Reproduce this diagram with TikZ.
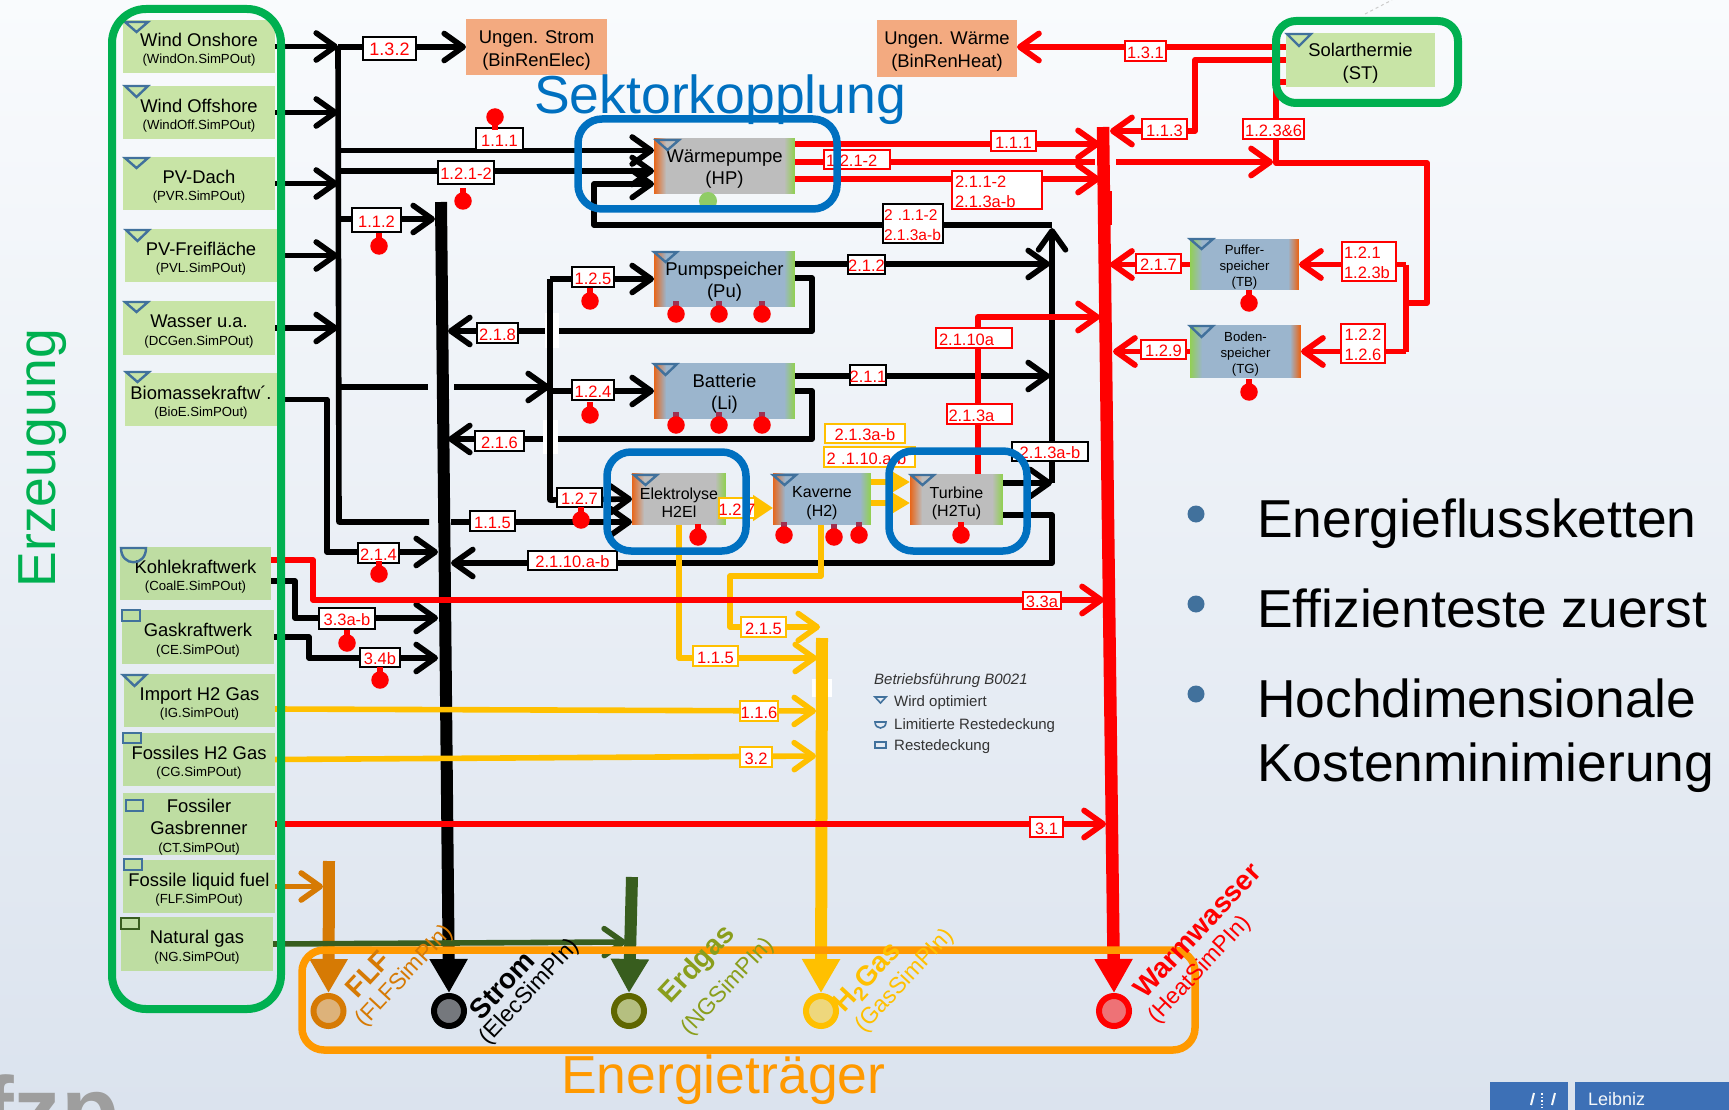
\documentclass[tikz,border=0pt]{standalone}
\usepackage{fontspec}
\setmainfont{Liberation Sans}
\usetikzlibrary{arrows.meta,shapes.geometric}
\pgfdeclarelayer{bg}\pgfdeclarelayer{lines}\pgfdeclarelayer{frames}\pgfdeclarelayer{top}
\pgfsetlayers{bg,lines,main,frames,top}
\definecolor{cSrcA}{HTML}{C8E4A6}
\definecolor{cSrcB}{HTML}{BEDDA2}
\definecolor{cSalm}{HTML}{F3AA80}
\definecolor{cGrey}{HTML}{BDBDBD}
\definecolor{cBlue}{HTML}{9BB5CD}
\definecolor{cO}{HTML}{E8661A}
\definecolor{cG}{HTML}{92CF55}
\definecolor{cIcon}{HTML}{41719C}
\definecolor{cY}{HTML}{FFC000}
\definecolor{cFLF}{HTML}{D67A04}
\definecolor{cNG}{HTML}{385D1E}
\definecolor{cOl}{HTML}{5F6600}
\definecolor{cEr}{HTML}{8A9E1C}
\definecolor{cOr}{HTML}{FF9900}
\definecolor{cFrB}{HTML}{0070C0}
\definecolor{cFrG}{HTML}{00B050}
\definecolor{cStem}{HTML}{A03050}
\definecolor{cLz}{HTML}{3D70B6}
\newcommand\bxpre{}
\newcommand\bx[7]{\node[inner sep=0pt,outer sep=0pt,align=center,minimum width={(#4-#2)*1pt},minimum height={(#5-#3)*1pt},#6] (#1) at ({(#2+#4)/2},{(#3+#5)/2}) {\bxpre #7};}
\newcommand\srcbox[8]{\bx{#1}{#2}{#3}{#4}{#5}{fill=#6,dn=20pt,font=\fontsize{18.4}{17.5}\selectfont}{#7\\{\fontsize{13.2}{16}\selectfont #8}}}
\newcommand\tri[4]{\draw[icon] (#1,#2) -- (#3,#2) -- ({(#1+#3)/2},#4) -- cycle;}
\newcommand\rct[4]{\draw[icon] (#1,#2) rectangle (#3,#4);}
\newcommand\rtop[4]{\fill[#4] ({#2-3},{#3-13}) rectangle ({#2+3},{#3-4}); \node[rdot] (#1) at (#2,#3) {};}
\newcommand\rbot[3]{\fill[red] ({#2-3},{#3+4}) rectangle ({#2+3},{#3+13}); \node[rdot] (#1) at (#2,#3) {};}
\newcommand\gradL[2]{\foreach \i in {0,...,12}{\pgfmathsetmacro\pp{100*(1-\i/12)}\fill[#1!\pp!#2] ([xshift={\i*1pt}]path picture bounding box.south west) rectangle ([xshift={(\i+1.4)*1pt}]path picture bounding box.north west);}}
\newcommand\gradR[2]{\foreach \i in {0,...,10}{\pgfmathsetmacro\pp{100*(1-\i/10)}\fill[#1!\pp!#2] ([xshift={-\i*1pt}]path picture bounding box.south east) rectangle ([xshift={-(\i+1.4)*1pt}]path picture bounding box.north east);}}
\tikzset{
 x=1pt,y=-1pt,
 dn/.code={\def\bxpre{\rule{0pt}{#1}}},
 icon/.style={draw=cIcon,line width=2.4pt,line join=miter},
 rdot/.style={circle,fill=red,inner sep=0pt,minimum size=17.5pt},
 bk/.style={draw=black,line width=5.6pt,line join=round},
 rd/.style={draw=red,line width=5.8pt,line join=round},
 yl/.style={draw=cY,line width=5.6pt,line join=round},
 dg/.style={draw=cNG,line width=5.6pt,line join=round},
 fl/.style={draw=cFLF,line width=5.6pt,line join=round},
 arr/.style={-{Straight Barb[length=19pt,width=27pt,round]}},
 tipT/.style={-{Triangle[length=34pt,width=36pt]}},
 lbB/.style={draw=black,line width=1.8pt,fill=white,text=red,dn=14.5pt,font=\fontsize{16.5}{20}\selectfont},
 lbR/.style={draw=red,line width=1.8pt,fill=white,text=red,dn=14.5pt,font=\fontsize{16.5}{20}\selectfont},
 lbY/.style={draw=cY,line width=1.8pt,fill=white,text=red,dn=14.5pt,font=\fontsize{16.5}{20}\selectfont},
 lft/.style={text width=#1,align=left},
 pr/.style={fill=#1,path picture={\gradL{cO}{#1}\gradR{cG}{#1}}},
 prR/.style={fill=#1,path picture={\gradL{cG}{#1}\gradR{cO}{#1}}},
 prT/.style={dn=19pt,font=\fontsize{18.5}{22}\selectfont},
 prM/.style={dn=19pt,font=\fontsize{16}{18.5}\selectfont},
 prS/.style={dn=15pt,font=\fontsize{13.2}{16}\selectfont},
 frB/.style={draw=cFrB,line width=7.5pt,rounded corners=24pt},
 car/.style={circle,line width=6pt,inner sep=0pt,minimum size=30pt},
 big/.style={font=\fontsize{53.5}{60}\selectfont},
 rightT/.style={anchor=base west,font=\fontsize{53.4}{60}\selectfont,text=black},
 legT/.style={anchor=west,inner sep=0pt,text=black!80,font=\fontsize{15}{17}\selectfont},
 eb/.style={rotate=47,font=\fontsize{28}{32}\bfseries\selectfont},
 es/.style={rotate=47,font=\fontsize{23}{26}\selectfont},
}
\begin{document}
\begin{tikzpicture}
\useasboundingbox (0,0) rectangle (1729,1110);
\begin{pgfonlayer}{bg}
\definecolor{bgT}{HTML}{F9FBFD}\definecolor{bgM}{HTML}{F0F3F8}\definecolor{bgB}{HTML}{DBE3EE}
\shade[top color=bgT,middle color=bgM,bottom color=bgB] (0,0) rectangle (1729,1110);
\end{pgfonlayer}

% ===== energy sources =====
\srcbox{wo}{123}{20}{275}{73}{cSrcA}{Wind Onshore}{(WindOn.SimPOut)}
\srcbox{wf}{123}{86}{275}{139}{cSrcA}{Wind Offshore}{(WindOff.SimPOut)}
\srcbox{pd}{123}{157}{275}{210}{cSrcA}{PV-Dach}{(PVR.SimPOut)}
\srcbox{pf}{125}{229}{277}{282}{cSrcA}{PV-Freifläche}{(PVL.SimPOut)}
\srcbox{wa}{123}{301}{275}{355}{cSrcA}{Wasser u.a.}{(DCGen.SimPOut)}
\srcbox{bi}{125}{373}{277}{426}{cSrcA}{Biomassekraftw´.}{(BioE.SimPOut)}
\srcbox{ko}{120}{547}{271}{600}{cSrcB}{Kohlekraftwerk}{(CoalE.SimPOut)}
\srcbox{ga}{122}{610}{274}{664}{cSrcB}{Gaskraftwerk}{(CE.SimPOut)}
\srcbox{im}{124}{674}{275}{727}{cSrcB}{Import H2 Gas}{(IG.SimPOut)}
\srcbox{fo}{123}{733}{275}{786}{cSrcB}{Fossiles H2 Gas}{(CG.SimPOut)}
\bx{fb}{123}{797}{275}{851}{fill=cSrcB,dn=20pt,font=\fontsize{18.4}{21.5}\selectfont}{Fossiler\\Gasbrenner\\[-3pt]{\fontsize{13.2}{16}\selectfont (CT.SimPOut)}}
\srcbox{ff}{123}{860}{275}{913}{cSrcB}{Fossile liquid fuel}{(FLF.SimPOut)}
\srcbox{ng}{121}{917}{273}{971}{cSrcB}{Natural gas}{(NG.SimPOut)}
\bx{st}{1286}{33}{1435}{87}{fill=cSrcA,prT,font=\fontsize{18.4}{23}\selectfont}{Solarthermie\\(ST)}
\bx{us}{466}{19}{607}{75}{fill=cSalm,prT,font=\fontsize{18.4}{23}\selectfont}{Ungen. Strom\\(BinRenElec)}
\bx{uw}{877}{20}{1017}{77}{fill=cSalm,prT,font=\fontsize{18.4}{23}\selectfont}{Ungen. Wärme\\(BinRenHeat)}

% ===== processes =====
\bx{wp}{654}{138}{795}{194}{pr=cGrey,prT}{Wärmepumpe\\(HP)}
\bx{pu}{654}{251}{795}{307}{pr=cBlue,prT}{Pumpspeicher\\(Pu)}
\bx{li}{654}{363}{795}{419}{pr=cBlue,prT}{Batterie\\(Li)}
\bx{el}{632}{473}{726}{525}{pr=cGrey,prM}{Elektrolyse\\H2El}
\bx{ka}{773}{473}{871}{525}{pr=cBlue,prM}{Kaverne\\(H2)}
\bx{tu}{910}{474}{1003}{525}{pr=cGrey,prM}{Turbine\\(H2Tu)}
\bx{tb}{1190}{239}{1299}{290}{prR=cBlue,prS}{Puffer-\\speicher\\(TB)}
\bx{tg}{1190}{325}{1301}{378}{prR=cBlue,prS}{Boden-\\speicher\\(TG)}

% ===== carriers =====
\definecolor{fF}{HTML}{DDB27A}\definecolor{fS}{HTML}{75787D}\definecolor{fN}{HTML}{B5BF80}\definecolor{fH}{HTML}{EED77C}\definecolor{fR}{HTML}{EE7276}
\node[car,draw=cFLF,fill=fF] (cF) at (328.5,1011) {};
\node[car,draw=black,fill=fS] (cS) at (449,1011) {};
\node[car,draw=cOl,fill=fN] (cN) at (629,1011) {};
\node[car,draw=cY,fill=fH] (cH) at (821,1011) {};
\node[car,draw=red,fill=fR] (cR) at (1114,1011) {};

% ===== junction points =====
\coordinate (busA) at (338,47);
\coordinate (busAb) at (339,522);
\coordinate (gapAl) at (429,522);
\coordinate (gapAr) at (451,522);
\coordinate (elIn2) at (632,522);
\coordinate (busS) at (441,202);
\coordinate (bus2) at (1052,483);
\coordinate (bus2t) at (1052,228);
\coordinate (wpIn1) at (654,150.5);
\coordinate (wpIn2) at (654,171);
\coordinate (wpIn3) at (654,184);
\coordinate (wpRet1) at (1052,225);
\coordinate (wpRet2) at (594,225);
\coordinate (wpRet3) at (594,184);
\coordinate (sA) at (435,219);
\coordinate (sAl) at (338,219);
\coordinate (hopL) at (338,387);
\coordinate (hopM) at (428,387);
\coordinate (hopN) at (454,387);
\coordinate (b2j) at (550,387);
\coordinate (b2l) at (550,391);
\coordinate (b2t) at (550,279);
\coordinate (b2b) at (550,500);
\coordinate (elIn1) at (632,499);
\coordinate (puR) at (795,278);
\coordinate (puC) at (812,278);
\coordinate (puD) at (812,331);
\coordinate (puE) at (448,331);
\coordinate (liR) at (795,391);
\coordinate (liC) at (812,391);
\coordinate (liD) at (812,439);
\coordinate (liE) at (448,439);
\coordinate (puO) at (795,264);
\coordinate (puB) at (1050,264);
\coordinate (liO) at (795,376);
\coordinate (liB) at (1050,376);
\coordinate (tuO1) at (1003,483);
\coordinate (tuO2) at (1003,515);
\coordinate (tuC) at (1052,515);
\coordinate (tuD) at (1052,563);
\coordinate (tuE) at (451,563);
\coordinate (biC) at (327,399.5);
\coordinate (biD) at (327,552);
\coordinate (biE) at (438,552);
\coordinate (koK) at (271,581);
\coordinate (koC) at (295,581);
\coordinate (koD) at (295,618);
\coordinate (koE) at (438,618);
\coordinate (gaK) at (274,637);
\coordinate (gaC) at (309,637);
\coordinate (gaD) at (309,658);
\coordinate (gaE) at (438,658);
\coordinate (koR) at (271,560);
\coordinate (koRc) at (313,560);
\coordinate (koRd) at (313,600);
\coordinate (koRe) at (1104,600);
\coordinate (fbE) at (1106,824);
\coordinate (imK) at (275,709);
\coordinate (imE) at (816,711);
\coordinate (foE) at (816,756);
\coordinate (elD) at (679,525);
\coordinate (elC) at (679,658);
\coordinate (elE) at (817,658);
\coordinate (kaD) at (821,525);
\coordinate (kaC) at (821,576);
\coordinate (kaB) at (730,576);
\coordinate (kaA) at (730,627);
\coordinate (kaE) at (820,627);
\coordinate (eka1) at (726,508);
\coordinate (eka2) at (773,508);
\coordinate (ktu1a) at (871,482);
\coordinate (ktu1b) at (910,482);
\coordinate (ktu2a) at (871,503);
\coordinate (ktu2b) at (910,503);
\coordinate (yBus) at (822,638);
\coordinate (rBus) at (1103,127);
\coordinate (flBus) at (329,861);
\coordinate (ffE) at (323,886.5);
\coordinate (ngBus) at (632,877);
\coordinate (ngE) at (626,942);
\coordinate (wr1a) at (795,144);
\coordinate (wr1b) at (1100,144);
\coordinate (wr2a) at (795,162);
\coordinate (wr2b) at (1095,162);
\coordinate (wr2c) at (1116,162);
\coordinate (wr2d) at (1273,162);
\coordinate (wr3a) at (795,179);
\coordinate (wr3b) at (1100,179);
\coordinate (tuR) at (978,474);
\coordinate (tuRc) at (978,317);
\coordinate (tuRe) at (1100,317);
\coordinate (st1) at (1286,47);
\coordinate (st2) at (1286,60);
\coordinate (st2c) at (1195,60);
\coordinate (st2d) at (1195,131);
\coordinate (st2e) at (1110,131);
\coordinate (st3) at (1286,82);
\coordinate (st3a) at (1276,82);
\coordinate (st3b) at (1276,163);
\coordinate (st3c) at (1427,163);
\coordinate (st3d) at (1427,303);
\coordinate (st3e) at (1406,303);
\coordinate (sp1) at (1406,264.5);
\coordinate (sp2) at (1406,351.5);
\coordinate (tbE) at (1110,264.5);
\coordinate (tgE) at (1113,351.5);

\begin{pgfonlayer}{lines}
% black
\draw[bk,arr] (wo.east) -- (wo.east -| busA);
\draw[bk,arr] (wf.east) -- (wf.east -| busA);
\draw[bk,arr] (pd.east) -- (pd.east -| busA);
\draw[bk,arr] (pf.east) -- (pf.east -| busA);
\draw[bk,arr] (wa.east) -- (wa.east -| busA);
\draw[bk,arr] (busA) -- (us.west |- busA);
\draw[bk] (busA) -- (busAb) -- (gapAl);
\draw[bk,arr] (gapAr) -- (elIn2);
\draw[bk,arr] (wpIn1 -| busA) -- (wpIn1);
\draw[bk,arr] (wpIn2 -| busA) -- (wpIn2);
\draw[bk,arr] (wpRet1) -- (wpRet2) -- (wpRet3) -- (wpIn3);
\draw[bk,arr] (sAl) -- (sA);
\draw[bk] (hopL) -- (hopM);
\draw[bk,arr] (hopN) -- (b2j);
\draw[bk,arr] (b2l) -- (li.west);
\draw[bk,arr] (puR) -- (puC) -- (puD) -- (puE);
\draw[bk,arr] (liR) -- (liC) -- (liD) -- (liE);
\fill[white] (545,313) rectangle (559,348);
\fill[white] (543,420) rectangle (558,454);
\draw[bk,arr] (b2t) -- (pu.west);
\draw[bk,arr] (b2t) -- (b2b) -- (elIn1);
\draw[bk,arr] (puO) -- (puB);
\draw[bk,arr] (liO) -- (liB);
\draw[bk,arr] (tuO1) -- (bus2);
\draw[bk,arr] (bus2) -- (bus2t);
\draw[bk,arr] (tuO2) -- (tuC) -- (tuD) -- (tuE);
\draw[bk,arr] (bi.east) -- (biC) -- (biD) -- (biE);
\draw[bk,arr] (koK) -- (koC) -- (koD) -- (koE);
\draw[bk,arr] (gaK) -- (gaC) -- (gaD) -- (gaE);
\draw[draw=black,line width=12pt,tipT] (busS) -- (cS.north);
% yellow
\fill[white] (812,679) rectangle (832,697);
\draw[yl,arr] (imK) -- (imE);
\draw[yl,arr] (fo.east) -- (foE);
\draw[yl,arr] (elD) -- (elC) -- (elE);
\draw[yl,arr] (kaD) -- (kaC) -- (kaB) -- (kaA) -- (kaE);
\draw[yl,-{Triangle[length=20pt,width=25pt]}] (eka1) -- (eka2);
\draw[yl,-{Triangle[length=18pt,width=20pt]}] (ktu1a) -- (ktu1b);
\draw[yl,-{Triangle[length=18pt,width=20pt]}] (ktu2a) -- (ktu2b);
\draw[draw=cY,line width=12pt,tipT] (yBus) -- (cH.north);
% red
\draw[rd,arr] (koR) -- (koRc) -- (koRd) -- (koRe);
\draw[rd,arr] (fb.east) -- (fbE);
\draw[rd,arr] (wr1a) -- (wr1b);
\draw[rd] (wr2a) -- (wr2b);
\draw[rd,arr] (wr2c) -- (wr2d);
\draw[rd,arr] (wr3a) -- (wr3b);
\draw[rd,arr] (tuR) -- (tuRc) -- (tuRe);
\draw[rd,arr] (st1) -- (uw.east |- st1);
\draw[rd,arr] (st2) -- (st2c) -- (st2d) -- (st2e);
\draw[rd] (st3) -- (st3a) -- (st3b) -- (st3c) -- (st3d) -- (st3e);
\draw[rd] (sp1) -- (sp2);
\draw[rd,arr] (sp1) -- (tb.east);
\draw[rd,arr] (sp2) -- (tg.east);
\draw[rd,arr] (tb.west) -- (tbE);
\draw[rd,arr] (tg.west) -- (tgE);
\fill[red] (1098,191) rectangle (1112,225);
\draw[draw=red,line width=12.5pt,tipT] (rBus) -- (cR.north);
% fossil liquid fuel and natural gas
\draw[fl,arr] (ff.east) -- (ffE);
\draw[draw=cFLF,line width=12pt,tipT] (flBus) -- (cF.north);
\draw[dg,arr] (ng.east) -- (ngE);
\draw[draw=cNG,line width=12pt,tipT] (ngBus) -- (cN.north);
\end{pgfonlayer}

% ===== flow labels =====
\bx{a1}{363}{37}{416}{60}{lbB,font=\fontsize{18}{20}\selectfont}{1.3.2}
\bx{a2}{476}{128}{523}{150}{lbB}{1.1.1}
\bx{a3}{438}{161}{494}{184}{lbB}{1.2.1-2}
\bx{a4}{352}{208}{401}{232}{lbB}{1.1.2}
\bx{a5}{572}{267}{614}{287}{lbB}{1.2.5}
\bx{a6}{477}{323}{518}{343}{lbB}{2.1.8}
\bx{a7}{572}{380}{614}{400}{lbB}{1.2.4}
\bx{a8}{475}{431}{524}{451}{lbB}{2.1.6}
\bx{a9}{557}{488}{602}{507}{lbB}{1.2.7}
\bx{a10}{470}{511}{515}{531}{lbB}{1.1.5}
\bx{a11}{528}{551}{617}{570}{lbB}{2.1.10.a-b}
\bx{a12}{358}{543}{399}{563}{lbB}{2.1.4}
\bx{a13}{319}{608}{375}{629}{lbB}{3.3a-b}
\bx{a14}{360}{648}{400}{667}{lbB}{3.4b}
\bx{a15}{849}{255}{884}{274}{lbB}{2.1.2}
\bx{a16}{850}{365}{886}{385}{lbB}{2.1.1}
\bx{a17}{1012}{442}{1088}{461}{lbB}{2.1.3a-b}
\bx{a18}{883}{204}{943}{243}{lbB,font=\fontsize{15.5}{20}\selectfont,lft=58pt}{2 .1.1-2\\2.1.3a-b}
\bx{b1}{991}{131}{1036}{151}{lbR}{1.1.1}
\bx{b2}{824}{150}{890}{169}{lbR,lft=62pt}{1.2.1-2}
\bx{b3}{952}{171}{1042}{209}{lbR,lft=84pt}{2.1.1-2\\2.1.3a-b}
\bx{b4}{1142}{119}{1187}{139}{lbR}{1.1.3}
\bx{b5}{1125}{41}{1166}{61}{lbR}{1.3.1}
\bx{b6}{1243}{119}{1304}{139}{lbR}{1.2.3\&6}
\bx{b7}{1136}{254}{1181}{273}{lbR}{2.1.7}
\bx{b8}{1141}{340}{1186}{359}{lbR}{1.2.9}
\bx{b9}{1342}{242}{1396}{281}{lbR,lft=50pt}{1.2.1\\1.2.3b}
\bx{b10}{1341}{324}{1385}{363}{lbR}{1.2.2\\1.2.6}
\bx{b11}{936}{328}{1012}{348}{lbR,lft=70pt}{2.1.10a}
\bx{b12}{947}{404}{1012}{424}{lbR,lft=62pt}{2.1.3a}
\bx{b13}{1023}{592}{1061}{609}{lbR}{3.3a}
\bx{b14}{1030}{817}{1063}{837}{lbR}{3.1}
\bx{c1}{722}{498}{752}{518}{lbY}{1.2.7}
\bx{c2}{825}{424}{905}{443}{lbY}{2.1.3a-b}
\bx{c3}{824}{447}{915}{467}{lbY,lft=86pt}{2 .1.10.a-b}
\bx{c4}{741}{617}{786}{637}{lbY}{2.1.5}
\bx{c5}{693}{646}{738}{666}{lbY}{1.1.5}
\bx{c6}{740}{701}{778}{721}{lbY}{1.1.6}
\bx{c7}{740}{747}{772}{767}{lbY}{3.2}

% ===== red markers =====
\rbot{d1}{495}{117}
\rtop{d2}{463}{201}{red}
\rtop{d3}{379}{246}{red}
\rtop{d4}{590}{301}{red}
\rtop{d5}{590}{415}{red}
\rtop{d6}{581}{520}{red}
\rtop{d7}{379}{574}{red}
\rtop{d8}{347}{643}{red}
\rtop{d9}{380}{680}{red}
\rtop{d10}{676}{314}{cStem}
\rtop{d11}{719}{314}{cStem}
\rtop{d12}{762}{314}{cStem}
\rtop{d13}{676}{425}{cStem}
\rtop{d14}{719}{425}{cStem}
\rtop{d15}{762}{425}{cStem}
\rtop{d16}{698}{537}{red}
\rtop{d17}{784}{535}{cStem}
\rtop{d18}{834}{537}{cStem}
\rtop{d19}{859}{535}{cStem}
\rtop{d20}{961}{535}{red}
\rtop{d21}{1249}{303}{red}
\rtop{d22}{1249}{392}{red}
\definecolor{cDot}{HTML}{90CC66}
\node[circle,fill=cDot,inner sep=0pt,minimum size=18pt] (d0) at (708,201) {};

% ===== operating-mode icons =====
\tri{125}{22}{148}{32}
\tri{125}{86}{148}{97}
\tri{125}{158}{148}{168}
\tri{126}{230}{149}{241}
\tri{125}{302}{148}{312}
\tri{126}{372}{149}{382}
\tri{123}{675}{146}{686}
\tri{656}{140}{679}{150}
\tri{654}{252}{677}{262}
\tri{654}{364}{677}{375}
\tri{634}{475}{657}{485}
\tri{773}{475}{796}{485}
\tri{911}{475}{934}{485}
\tri{1190}{239}{1213}{249}
\tri{1190}{326}{1213}{337}
\tri{1287}{34}{1311}{46}
\draw[icon] (121,548) -- (146,548) .. controls (146,567) and (121,567) .. (121,548) -- cycle;
\rct{122}{610}{140}{621}
\rct{123}{733}{141}{743}
\rct{126}{800}{143}{811}
\rct{124}{859}{142}{870}
\draw[draw=cNG,line width=2.4pt] (121,918) rectangle (139,929);

% ===== legend =====
\node[legT,font=\fontsize{15}{17}\itshape\selectfont] (lg0) at (874,681) {Betriebsführung B0021};
\draw[draw=cIcon,line width=1.6pt] (875,697) -- (886,697) -- (880.5,703) -- cycle;
\node[legT] (lg1) at (894,703) {Wird optimiert};
\draw[draw=cIcon,line width=1.6pt] (875,722) -- (886,722) .. controls (886,730) and (875,730) .. (875,722) -- cycle;
\node[legT] (lg2) at (894,725.5) {Limitierte Restedeckung};
\draw[draw=cIcon,line width=1.6pt] (875,742) rectangle (886,748);
\node[legT] (lg3) at (894,747) {Restedeckung};

% ===== big captions and bullets =====
\node[big,anchor=base west,text=cFrB,inner sep=0pt] (t1) at (534,114) {Sektorkopplung};
\node[big,anchor=base west,text=cOr,inner sep=0pt] (t2) at (561,1093) {Energieträger};
\node[big,anchor=base,rotate=90,text=cFrG,inner sep=0pt] (t3) at (55,458) {Erzeugung};
\node[rightT,inner sep=0pt] (r1) at (1257,537.5) {Energieflussketten};
\node[rightT,inner sep=0pt] (r2) at (1257,627.5) {Effizienteste zuerst};
\node[rightT,inner sep=0pt] (r3) at (1257,717.5) {Hochdimensionale};
\node[rightT,inner sep=0pt] (r4) at (1257,781.5) {Kostenminimierung};
\node[circle,fill=cIcon,inner sep=0pt,minimum size=17pt] (p1) at (1196,514) {};
\node[circle,fill=cIcon,inner sep=0pt,minimum size=17pt] (p2) at (1196,604) {};
\node[circle,fill=cIcon,inner sep=0pt,minimum size=17pt] (p3) at (1196,694) {};

% ===== corner marks =====
\node[anchor=base west,inner sep=0pt,text=black!38,font=\fontsize{95}{100}\bfseries\selectfont] (logo) at (-18,1143) {fzp};
\bx{lz1}{1490}{1082}{1568}{1115}{fill=cLz}{}
\bx{lz2}{1575}{1082}{1735}{1115}{fill=cLz}{}
\node[anchor=west,inner sep=0pt,text=white!90!cBlue,font=\fontsize{18}{20}\selectfont] (lz3) at (1588,1099) {Leibniz};
\draw[white!90!cBlue,line width=2pt] (1531,1105) -- (1534,1093) (1552,1105) -- (1555,1093);
\draw[white!90!cBlue,line width=1.5pt,dotted] (1542,1093) -- (1542,1108);
\draw[black!20,line width=1pt,dashed] (1365,14) -- (1392,0);

% ===== frames =====
\begin{pgfonlayer}{frames}
\bx{fG}{112}{9}{281}{1009}{draw=cFrG,line width=8pt,rounded corners=34pt}{}
\bx{fS}{1276}{21}{1458}{103}{draw=cFrG,line width=8pt,rounded corners=20pt}{}
\bx{fW}{578}{119}{837}{209}{frB}{}
\bx{fE}{607}{452}{746}{551}{frB}{}
\bx{fT}{889}{451}{1027}{551}{frB}{}
\bx{fO}{302}{950}{1195}{1050}{draw=cOr,line width=7.5pt,rounded corners=22pt}{}
\end{pgfonlayer}

% ===== carrier captions =====
\begin{pgfonlayer}{top}
\node[eb,text=cFLF] (n1) at (368,974) {FLF};
\node[es,text=cFLF] (n2) at (405,976) {(FLFSimPIn)};
\node[eb,text=black] (n3) at (502,985) {Strom};
\node[es,text=black] (n4) at (530,992) {(ElecSimPIn)};
\node[eb,text=cEr] (n5) at (698,965) {Erdgas};
\node[es,text=cEr] (n6) at (728,987) {(NGSimPIn)};
\node[eb,text=cY] (n7) at (868,978) {H\textsubscript{2}Gas};
\node[es,text=cY] (n8) at (905,981) {(GasSimPIn)};
\node[eb,text=red] (n9) at (1197,930) {Warmwasser};
\node[es,text=red] (n10) at (1200,970) {(HeatSimPIn)};
\end{pgfonlayer}
\end{tikzpicture}
\end{document}
